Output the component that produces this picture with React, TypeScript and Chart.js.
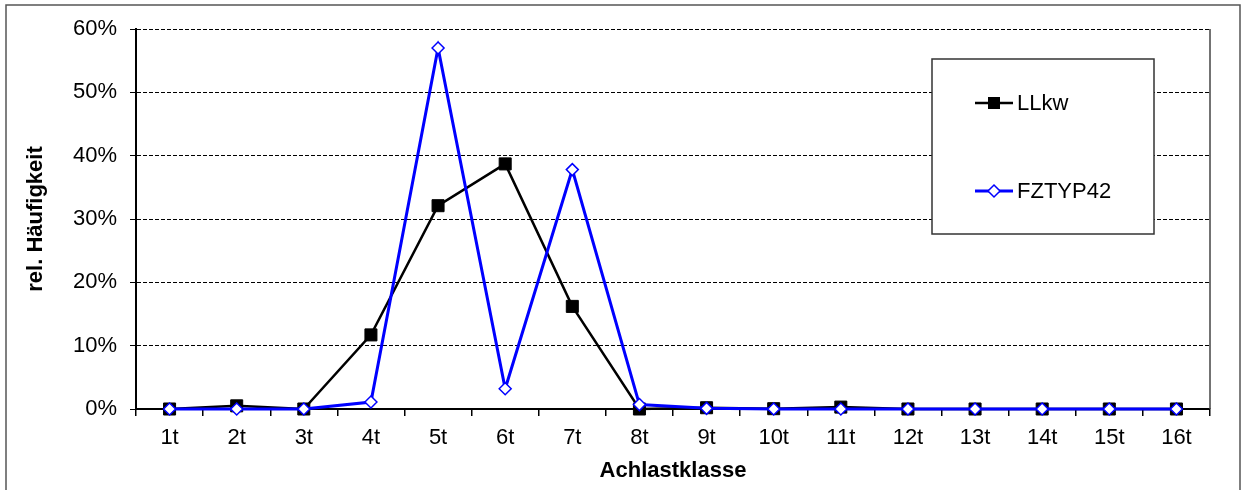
import React, { useEffect, useRef } from "react";
import { Chart, registerables } from "chart.js";

Chart.register(...registerables);

const categories = ["1t", "2t", "3t", "4t", "5t", "6t", "7t", "8t", "9t", "10t", "11t", "12t", "13t", "14t", "15t", "16t"];
const llkwValues = [0.0, 0.005, 0.0, 0.117, 0.321, 0.387, 0.162, 0.0, 0.002, 0.0005, 0.003, 0.0, 0.0, 0.0, 0.0, 0.0];
const fztypValues = [0.0, 0.0, 0.0, 0.011, 0.57, 0.032, 0.378, 0.007, 0.001, 0.0, 0.0, 0.0, 0.0, 0.0, 0.0, 0.0];
const seriesNames = ["LLkw", "FZTYP42"];
const yTickValues = [0, 0.1, 0.2, 0.3, 0.4, 0.5, 0.6];
const xTitle = "Achlastklasse";
const yTitle = "rel. Häufigkeit";

const FONT = "Arial, 'Liberation Sans', sans-serif";
const FS = 22;

const framePlugin = {
  id: "frame",
  afterDraw(chart: any) {
    const ctx = chart.ctx;
    const ca = chart.chartArea;
    ctx.save();
    // outer border
    ctx.strokeStyle = "#555";
    ctx.lineWidth = 1.5;
    ctx.strokeRect(6, 5, 1234, 500);
    // plot area right border
    ctx.strokeStyle = "#444";
    ctx.lineWidth = 1.5;
    ctx.beginPath();
    ctx.moveTo(ca.right, ca.top);
    ctx.lineTo(ca.right, ca.bottom);
    ctx.stroke();
    // legend box
    const lx = 932, ly = 59, lw = 222, lh = 175;
    ctx.fillStyle = "#fff";
    ctx.fillRect(lx, ly, lw, lh);
    ctx.strokeStyle = "#333";
    ctx.lineWidth = 1.5;
    ctx.strokeRect(lx, ly, lw, lh);
    const items = [
      { y: 103, color: "#000000", shape: "square", name: seriesNames[0] },
      { y: 191, color: "#0000ff", shape: "diamond", name: seriesNames[1] },
    ];
    items.forEach((it) => {
      ctx.strokeStyle = it.color;
      ctx.lineWidth = it.shape === "square" ? 2.5 : 3;
      ctx.beginPath();
      ctx.moveTo(975, it.y);
      ctx.lineTo(1013, it.y);
      ctx.stroke();
      const cx = 994;
      if (it.shape === "square") {
        ctx.fillStyle = "#000";
        ctx.fillRect(cx - 6, it.y - 6, 12, 12);
      } else {
        ctx.fillStyle = "#fff";
        ctx.strokeStyle = "#0000ff";
        ctx.lineWidth = 1.5;
        ctx.beginPath();
        ctx.moveTo(cx, it.y - 6);
        ctx.lineTo(cx + 6, it.y);
        ctx.lineTo(cx, it.y + 6);
        ctx.lineTo(cx - 6, it.y);
        ctx.closePath();
        ctx.fill();
        ctx.stroke();
      }
      ctx.fillStyle = "#000";
      ctx.font = `${FS}px ${FONT}`;
      ctx.textBaseline = "middle";
      ctx.textAlign = "left";
      ctx.fillText(it.name, 1017, it.y + 1);
    });
    ctx.restore();
  },
};

export default function App() {
  const canvasRef = useRef<HTMLCanvasElement>(null);

  useEffect(() => {
    const canvas = canvasRef.current;
    if (!canvas) return;
    const chart = new Chart(canvas, {
      type: "line",
      data: {
        labels: categories,
        datasets: [
          {
            label: seriesNames[0],
            data: llkwValues,
            borderColor: "#000000",
            backgroundColor: "#000000",
            borderWidth: 2.5,
            pointStyle: "rect",
            pointRadius: 8.5,
            pointBorderWidth: 1,
            pointBorderColor: "#000000",
            pointBackgroundColor: "#000000",
            tension: 0,
            clip: false,
            order: 1,
          },
          {
            label: seriesNames[1],
            data: fztypValues,
            borderColor: "#0000ff",
            backgroundColor: "#ffffff",
            borderWidth: 3,
            pointStyle: "rectRot",
            pointRadius: 6,
            pointBorderWidth: 1.5,
            pointBorderColor: "#0000ff",
            pointBackgroundColor: "#ffffff",
            tension: 0,
            clip: false,
            order: 0,
          },
        ],
      },
      options: {
        animation: false,
        responsive: false,
        maintainAspectRatio: false,
        layout: { padding: { left: 0, top: 29, right: 32, bottom: 0 } },
        plugins: {
          legend: { display: false },
          tooltip: { enabled: false },
        },
        scales: {
          x: {
            type: "category",
            offset: true,
            grid: {
              display: true,
              offset: true,
              drawOnChartArea: false,
              drawTicks: true,
              tickLength: 7,
              color: "#000",
              lineWidth: 1.5,
            },
            border: { display: true, color: "#000", width: 2 },
            ticks: {
              color: "#000",
              font: { family: FONT, size: FS },
              padding: 9,
              maxRotation: 0,
              autoSkip: false,
            },
            title: {
              display: true,
              text: xTitle,
              color: "#000",
              font: { family: FONT, size: FS, weight: "bold" },
              padding: { top: 0, bottom: 6 },
            },
            afterFit: (s: any) => {
              s.height = 81;
            },
          },
          y: {
            min: 0,
            max: 0.6,
            afterBuildTicks: (s: any) => {
              s.ticks = yTickValues.map((v) => ({ value: v }));
            },
            grid: {
              display: true,
              drawOnChartArea: true,
              drawTicks: true,
              tickLength: 6,
              color: "#000",
              lineWidth: 1,
              tickColor: "#000",
            },
            border: { display: true, color: "#000", width: 2, dash: [4, 2] },
            ticks: {
              color: "#000",
              font: { family: FONT, size: FS },
              padding: 13,
              callback: (v: any) => `${Math.round(Number(v) * 100)}%`,
            },
            title: {
              display: true,
              text: yTitle,
              color: "#000",
              font: { family: FONT, size: FS, weight: "bold" },
              padding: { top: 23, bottom: 0 },
            },
            afterFit: (s: any) => {
              s.width = 136;
            },
          },
        },
      },
      plugins: [framePlugin],
    });
    return () => chart.destroy();
  }, []);

  return (
    <div style={{ position: "absolute", left: 0, top: 0, width: 1242, height: 490, background: "#fff" }}>
      <canvas ref={canvasRef} width={1242} height={490} style={{ display: "block" }} />
    </div>
  );
}
